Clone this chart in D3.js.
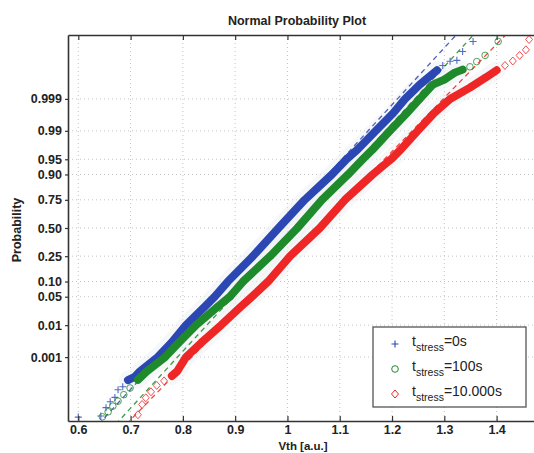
<html>
<head>
<meta charset="utf-8">
<style>
  body { margin: 0; background: #fff; }
  text { font-family: "Liberation Sans", Arial, sans-serif; }
</style>
</head>
<body>
<script src="https://d3js.org/d3.v7.min.js" charset="utf-8"></script>
<svg id="chart" width="534" height="453"></svg>
<script>
// values: Vth samples and their plotting probabilities
var blueProb = [3.0e-6, 3.4e-6, 8.5e-6, 1.6e-5, 2.5e-5, 5.4e-5, 7.2e-5, 1.36e-4, 1.85e-4, 3e-4, 0.001, 0.003, 0.01, 0.03, 0.05, 0.10, 0.25, 0.50, 0.75, 0.90, 0.95, 0.97, 0.99, 0.997, 0.999, 0.9997, 0.99992, 0.99995, 0.999967, 0.99997, 0.999988, 0.999996];
var blueVth  = [0.600, 0.643, 0.653, 0.661, 0.670, 0.676, 0.685, 0.695, 0.708, 0.718, 0.752, 0.778, 0.806, 0.842, 0.861, 0.886, 0.934, 0.983, 1.033, 1.085, 1.113, 1.134, 1.169, 1.202, 1.225, 1.253, 1.286, 1.297, 1.311, 1.324, 1.335, 1.355];

var greenProb = [3.1e-6, 5.4e-6, 1.0e-5, 1.7e-5, 3.3e-5, 6.4e-5, 1.4e-4, 3e-4, 0.001, 0.003, 0.01, 0.03, 0.05, 0.10, 0.25, 0.50, 0.75, 0.90, 0.95, 0.97, 0.99, 0.997, 0.999, 0.9997, 0.99981, 0.9999, 0.999925, 0.999943, 0.999966, 0.999982, 0.999996];
var greenVth  = [0.646, 0.657, 0.666, 0.676, 0.687, 0.699, 0.714, 0.731, 0.766, 0.792, 0.825, 0.867, 0.890, 0.915, 0.967, 1.019, 1.066, 1.116, 1.144, 1.163, 1.196, 1.228, 1.253, 1.278, 1.300, 1.320, 1.335, 1.349, 1.362, 1.378, 1.403];

var redProb = [3.9e-6, 1.2e-5, 2.4e-5, 4.4e-5, 8.2e-5, 1.26e-4, 2.0e-4, 3e-4, 0.001, 0.003, 0.01, 0.03, 0.05, 0.10, 0.25, 0.50, 0.75, 0.90, 0.95, 0.97, 0.99, 0.997, 0.999, 0.99961, 0.99985, 0.99992, 0.99995, 0.999968, 0.999982, 0.99999, 0.9999968];
var redVth  = [0.714, 0.722, 0.729, 0.739, 0.750, 0.764, 0.779, 0.789, 0.806, 0.835, 0.873, 0.911, 0.932, 0.963, 1.005, 1.062, 1.110, 1.163, 1.198, 1.217, 1.249, 1.280, 1.311, 1.349, 1.381, 1.400, 1.416, 1.431, 1.444, 1.456, 1.462];

var seriesNames = ["=0s", "=100s", "=10.000s"];
var xTicks = [0.6, 0.7, 0.8, 0.9, 1, 1.1, 1.2, 1.3, 1.4];
var yTicks = [0.001, 0.01, 0.05, 0.10, 0.25, 0.50, 0.75, 0.90, 0.95, 0.99, 0.999];
var yTickLabels = ["0.001", "0.01", "0.05", "0.10", "0.25", "0.50", "0.75", "0.90", "0.95", "0.99", "0.999"];

// inverse normal cdf (Acklam)
function probit(p) {
  var a = [-3.969683028665376e+01, 2.209460984245205e+02, -2.759285104469687e+02, 1.383577518672690e+02, -3.066479806614716e+01, 2.506628277459239e+00];
  var b = [-5.447609879822406e+01, 1.615858368580409e+02, -1.556989798598866e+02, 6.680131188771972e+01, -1.328068155288572e+01];
  var c = [-7.784894002430293e-03, -3.223964580411365e-01, -2.400758277161838e+00, -2.549671067536870e+00, 4.374664141464968e+00, 2.938163982698783e+00];
  var d = [7.784695709041462e-03, 3.224671290700398e-01, 2.445134137142996e+00, 3.754408661907416e+00];
  var plow = 0.02425, q, r;
  if (p < plow) {
    q = Math.sqrt(-2 * Math.log(p));
    return (((((c[0]*q+c[1])*q+c[2])*q+c[3])*q+c[4])*q+c[5]) / ((((d[0]*q+d[1])*q+d[2])*q+d[3])*q+1);
  }
  if (p > 1 - plow) {
    q = Math.sqrt(-2 * Math.log(1 - p));
    return -(((((c[0]*q+c[1])*q+c[2])*q+c[3])*q+c[4])*q+c[5]) / ((((d[0]*q+d[1])*q+d[2])*q+d[3])*q+1);
  }
  q = p - 0.5; r = q * q;
  return (((((a[0]*r+a[1])*r+a[2])*r+a[3])*r+a[4])*r+a[5])*q / (((((b[0]*r+b[1])*r+b[2])*r+b[3])*r+b[4])*r+1);
}

var series = [
  { vth: blueVth,  prob: blueProb,  color: "#2b47b3", marker: "plus" },
  { vth: greenVth, prob: greenProb, color: "#1f8a2c", marker: "circle" },
  { vth: redVth,   prob: redProb,   color: "#ee2626", marker: "diamond" }
];

var L = 68, R = 534, T = 35, B = 421;
var svg = d3.select("#chart");
var x = d3.scaleLinear().domain([0.5803, 1.4715]).range([L, R]);
var y = d3.scaleLinear().domain([-4.62, 4.62]).range([B, T]);

// grid
var grid = svg.append("g").attr("stroke", "#c4c4c4").attr("stroke-dasharray", "1,3").attr("stroke-width", 1);
grid.selectAll(".gx").data(xTicks).enter().append("line")
  .attr("x1", function(d) { return x(d); }).attr("x2", function(d) { return x(d); })
  .attr("y1", T).attr("y2", B);
grid.selectAll(".gy").data(yTicks).enter().append("line")
  .attr("x1", L).attr("x2", R)
  .attr("y1", function(d) { return y(probit(d)); }).attr("y2", function(d) { return y(probit(d)); });

var plot = svg.append("g");
var clip = svg.append("clipPath").attr("id", "clip").append("rect")
  .attr("x", L).attr("y", T).attr("width", R - L).attr("height", B - T);
plot.attr("clip-path", "url(#clip)");

var line = d3.line().x(function(d) { return x(d.v); }).y(function(d) { return y(probit(d.p)); });

function points(s) {
  return s.vth.map(function(v, i) { return { v: v, p: s.prob[i] }; });
}
function bandPoints(s) {
  return points(s).filter(function(d) { return d.p >= 1.3e-4 && d.p <= 0.99993; });
}

// faint haze round the dense bands
series.forEach(function(s) {
  plot.append("path").datum(bandPoints(s)).attr("d", line)
    .attr("fill", "none").attr("stroke", "#eef0f2").attr("stroke-width", 18)
    .attr("stroke-linecap", "round").attr("stroke-linejoin", "round").attr("opacity", 0.5);
});

// reference lines through the quartiles
series.forEach(function(s) {
  var q1 = s.vth[s.prob.indexOf(0.25)], q3 = s.vth[s.prob.indexOf(0.75)];
  var sig = (q3 - q1) / (2 * probit(0.75)), mu = (q1 + q3) / 2;
  var ends = [{ v: mu + sig * -4.7, z: -4.7 }, { v: mu + sig * 4.7, z: 4.7 }];
  plot.append("line")
    .attr("x1", x(ends[0].v)).attr("y1", y(ends[0].z))
    .attr("x2", x(ends[1].v)).attr("y2", y(ends[1].z))
    .attr("stroke", s.color).attr("stroke-width", 1.3)
    .attr("stroke-dasharray", "5,4").attr("opacity", 0.85);
});

function drawMarker(g, type, color, cx, cy) {
  if (type === "plus") {
    g.append("path").attr("d", "M" + (cx - 3.5) + "," + cy + "h7M" + cx + "," + (cy - 3.5) + "v7")
      .attr("stroke", color).attr("stroke-width", 1.1).attr("fill", "none");
  } else if (type === "circle") {
    g.append("circle").attr("cx", cx).attr("cy", cy).attr("r", 3.3)
      .attr("stroke", color).attr("stroke-width", 1).attr("fill", "none");
  } else {
    g.append("path").attr("d", "M" + cx + "," + (cy - 4) + "l3.5,4l-3.5,4l-3.5,-4z")
      .attr("stroke", color).attr("stroke-width", 1).attr("fill", "none");
  }
}

// markers + dense band
series.forEach(function(s) {
  var mg = plot.append("g").attr("opacity", 0.8);
  points(s).forEach(function(d) {
    drawMarker(mg, s.marker, s.color, x(d.v), y(probit(d.p)));
  });
  plot.append("path").datum(bandPoints(s)).attr("d", line)
    .attr("fill", "none").attr("stroke", s.color).attr("stroke-width", 8)
    .attr("stroke-linecap", "round").attr("stroke-linejoin", "round");
});

// axes
var fmt = function(d) { return String(+d.toFixed(1)); };
var xb = svg.append("g").attr("transform", "translate(0," + B + ")")
  .call(d3.axisBottom(x).tickValues(xTicks).tickFormat(fmt).tickSizeInner(-5).tickSizeOuter(0).tickPadding(4));
var xt = svg.append("g").attr("transform", "translate(0," + T + ")")
  .call(d3.axisTop(x).tickValues(xTicks).tickFormat("").tickSizeInner(-5).tickSizeOuter(0));
var yl = svg.append("g").attr("transform", "translate(" + L + ",0)")
  .call(d3.axisLeft(y).tickValues(yTicks.map(probit))
    .tickFormat(function(d, i) { return yTickLabels[i]; }).tickSize(3).tickSizeOuter(0).tickPadding(3));

[xb, xt, yl].forEach(function(g) {
  g.select(".domain").attr("stroke", "#333").attr("stroke-width", 1.6);
  g.selectAll(".tick line").attr("stroke", "#333").attr("stroke-width", 1.2);
  g.selectAll("text").attr("font-size", 12.5).attr("font-weight", "bold").attr("fill", "#222")
    .style("font-family", "'Liberation Sans', Arial, sans-serif");
});

// titles
svg.append("text").attr("x", 297).attr("y", 25).attr("text-anchor", "middle")
  .attr("font-size", 12.5).attr("font-weight", "bold").attr("fill", "#222").text("Normal Probability Plot");
svg.append("text").attr("x", 303).attr("y", 450).attr("text-anchor", "middle")
  .attr("font-size", 11.5).attr("font-weight", "bold").attr("fill", "#222").text("Vth [a.u.]");
svg.append("text").attr("transform", "translate(21,230) rotate(-90)").attr("text-anchor", "middle")
  .attr("font-size", 12.5).attr("font-weight", "bold").attr("fill", "#222").text("Probability");

// legend
var lg = svg.append("g");
lg.append("rect").attr("x", 373).attr("y", 327).attr("width", 153).attr("height", 80)
  .attr("fill", "#fff").attr("stroke", "#555").attr("stroke-width", 1.3);
series.forEach(function(s, i) {
  var ly = 343 + i * 25;
  drawMarker(lg, s.marker, s.color, 395, ly + 1);
  var t = lg.append("text").attr("x", 412).attr("y", ly + 3).attr("font-size", 14).attr("fill", "#222");
  t.append("tspan").text("t");
  t.append("tspan").attr("font-size", 10.5).attr("dy", 5).text("stress");
  t.append("tspan").attr("dy", -5).text(seriesNames[i]);
});
</script>
</body>
</html>
